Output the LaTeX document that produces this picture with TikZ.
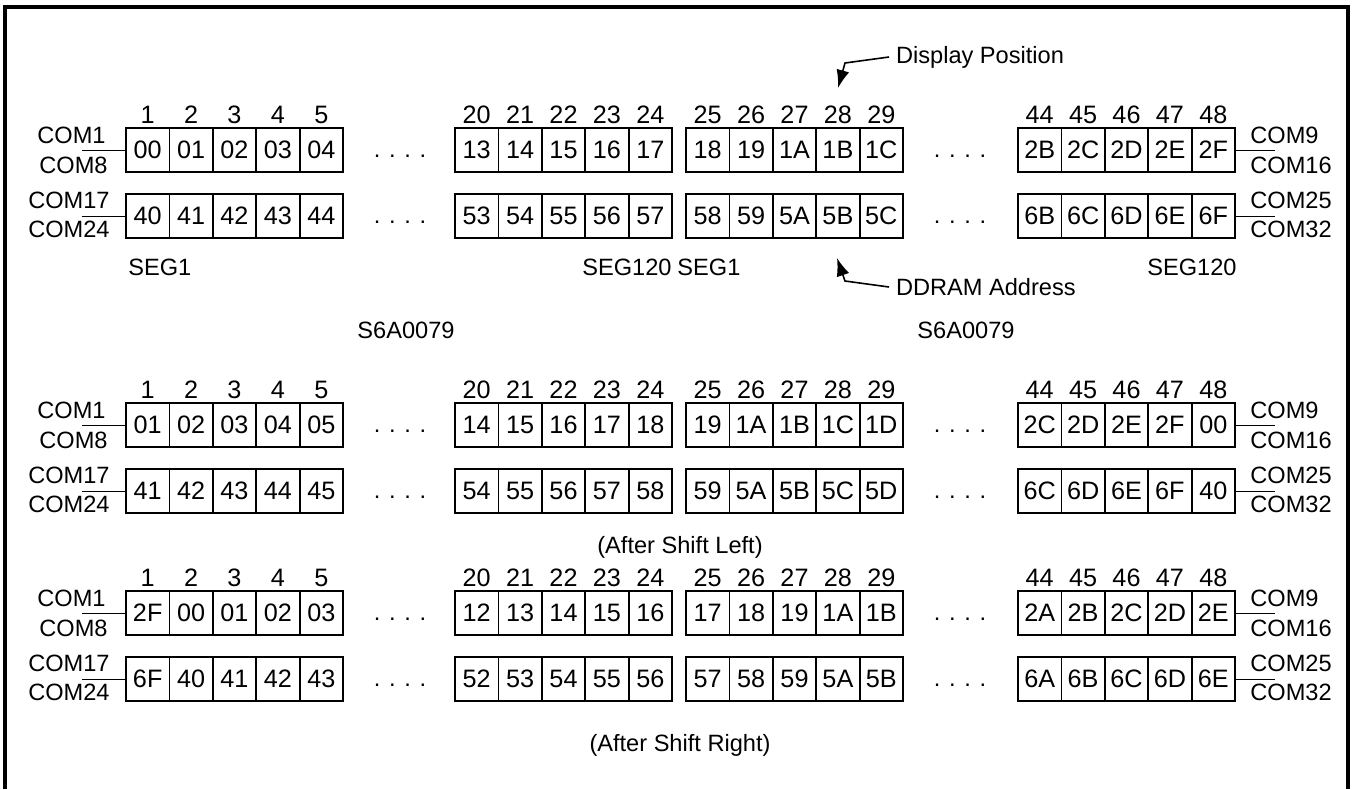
\documentclass[tikz,border=0pt]{standalone}
\usepackage{fontspec}
\setmainfont{Liberation Sans}
\usetikzlibrary{arrows.meta}

% one row of five DDRAM cells: name, left x, centre y, contents
\newcommand{\memrow}[4]{%
  \foreach \v [count=\i] in {#4}
    \node (#1-\i) [cell] at ({#2+(\i-0.5)*43.4},#3) {\v};}
% display positions above a group of five cells
\newcommand{\segnums}[4]{%
  \foreach \i in {1,...,5}{
    \pgfmathtruncatemacro{\segno}{#4+\i-1}
    \node (#1-\i) [txt, font=\fontsize{12.6}{14}\selectfont] at ({#2+(\i-0.5)*43.4},#3) {\segno};}}

\begin{document}
\begin{tikzpicture}[
        x=0.5pt, y=-0.5pt,
        font=\fontsize{11.8}{14}\selectfont,
        cell/.style={
        draw=black, line width=0.9pt,
        minimum width=21.7pt, minimum height=22pt,
        inner sep=0pt, font=\fontsize{12.6}{14}\selectfont},
        txt/.style={inner sep=0pt},
        frame/.style={line width=1.6pt},
        pointer/.style={line width=0.8pt, -{Latex[length=9pt,width=6.5pt]}},
        ]

        \useasboundingbox (0,0) rectangle (1354,789);
        \draw[frame] (5,789) -- (5,7) -- (1348,7) -- (1348,789);

        % before the shift
        \memrow{a11}{126}{150}{00,01,02,03,04}
        \memrow{a12}{455}{150}{13,14,15,16,17}
        \memrow{a13}{686}{150}{18,19,1A,1B,1C}
        \memrow{a14}{1018}{150}{2B,2C,2D,2E,2F}
        \memrow{a21}{126}{216}{40,41,42,43,44}
        \memrow{a22}{455}{216}{53,54,55,56,57}
        \memrow{a23}{686}{216}{58,59,5A,5B,5C}
        \memrow{a24}{1018}{216}{6B,6C,6D,6E,6F}

        % after shift left
        \memrow{b11}{126}{425}{01,02,03,04,05}
        \memrow{b12}{455}{425}{14,15,16,17,18}
        \memrow{b13}{686}{425}{19,1A,1B,1C,1D}
        \memrow{b14}{1018}{425}{2C,2D,2E,2F,00}
        \memrow{b21}{126}{491}{41,42,43,44,45}
        \memrow{b22}{455}{491}{54,55,56,57,58}
        \memrow{b23}{686}{491}{59,5A,5B,5C,5D}
        \memrow{b24}{1018}{491}{6C,6D,6E,6F,40}

        % after shift right
        \memrow{c11}{126}{613}{2F,00,01,02,03}
        \memrow{c12}{455}{613}{12,13,14,15,16}
        \memrow{c13}{686}{613}{17,18,19,1A,1B}
        \memrow{c14}{1018}{613}{2A,2B,2C,2D,2E}
        \memrow{c21}{126}{679}{6F,40,41,42,43}
        \memrow{c22}{455}{679}{52,53,54,55,56}
        \memrow{c23}{686}{679}{57,58,59,5A,5B}
        \memrow{c24}{1018}{679}{6A,6B,6C,6D,6E}

        \foreach \p/\dy in {a/0,b/275,c/463}{
          \foreach \g/\gx/\first in {1/126/1,2/455/20,3/686/25,4/1018/44}{
            \segnums{\p n\g}{\gx}{115+\dy}{\first}}
          % COM labels
          \node (\p-com1) [txt, anchor=east] at (106,135+\dy) {COM1};
          \node (\p-com8) [txt, anchor=east] at (108,165+\dy) {COM8};
          \node (\p-com17) [txt, anchor=east] at (110,200+\dy) {COM17};
          \node (\p-com24) [txt, anchor=east] at (110,229+\dy) {COM24};
          \node (\p-com9) [txt, anchor=west] at (1250,135+\dy) {COM9};
          \node (\p-com16) [txt, anchor=west] at (1250,165+\dy) {COM16};
          \node (\p-com25) [txt, anchor=west] at (1250,200+\dy) {COM25};
          \node (\p-com32) [txt, anchor=west] at (1250,229+\dy) {COM32};
          % taps into the rows
          \coordinate (\p-tapL1) at (82,150+\dy);
          \coordinate (\p-tapL2) at (82,216+\dy);
          \coordinate (\p-tapR1) at (1275,150+\dy);
          \coordinate (\p-tapR2) at (1275,216+\dy);
          \draw (\p-tapL1) -- (\p11-1.west);
          \draw (\p-tapL2) -- (\p21-1.west);
          \draw (\p14-5.east) -- (\p-tapR1);
          \draw (\p24-5.east) -- (\p-tapR2);
          % gaps
          \node (\p-dots1) [txt, anchor=base] at (400,157+\dy) {. . . .};
          \node (\p-dots2) [txt, anchor=base] at (960,157+\dy) {. . . .};
          \node (\p-dots3) [txt, anchor=base] at (400,223+\dy) {. . . .};
          \node (\p-dots4) [txt, anchor=base] at (960,223+\dy) {. . . .};
        }

        \node (seg1a) [txt, anchor=west] at (128,267) {SEG1};
        \node (seg120a) [txt, anchor=east] at (672,267) {SEG120};
        \node (seg1b) [txt, anchor=west] at (677,267) {SEG1};
        \node (seg120b) [txt, anchor=east] at (1237,267) {SEG120};

        \node (chip1) [txt] at (406,330) {S6A0079};
        \node (chip2) [txt] at (966,330) {S6A0079};

        \node (dpos) [anchor=west] at (889,57) {Display Position};
        \coordinate (dpos-bend) at (845,63);
        \coordinate (dpos-tip) at (838,88);
        \draw[pointer] (dpos.west) -- (dpos-bend) -- (dpos-tip);

        \node (ddram) [anchor=west] at (889,287) {DDRAM Address};
        \coordinate (ddram-bend) at (845,281);
        \coordinate (ddram-tip) at (837,258);
        \draw[pointer] (ddram.west) -- (ddram-bend) -- (ddram-tip);

        \node (shl) [txt] at (680,547) {(After Shift Left)};
        \node (shr) [txt] at (680,745) {(After Shift Right)};
    \end{tikzpicture}
\end{document}
